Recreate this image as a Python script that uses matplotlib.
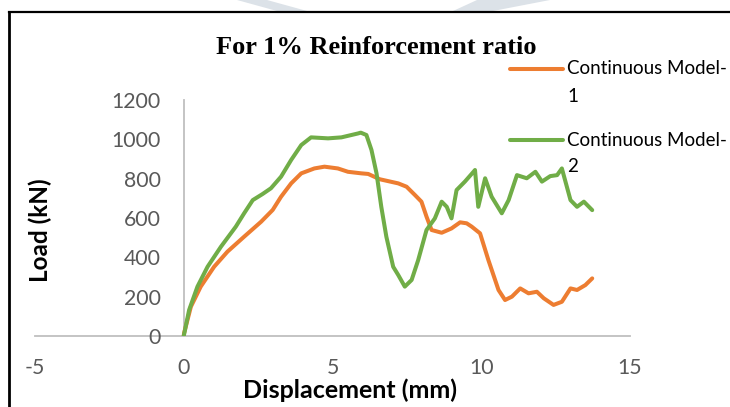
import numpy as np
import matplotlib.pyplot as plt
from matplotlib.patches import Polygon
from matplotlib.lines import Line2D

# Load-displacement curves, 1% reinforcement ratio
disp_1 = [0, 0.01, 0.24, 0.57, 1.02, 1.47, 2.03, 2.6, 2.99, 3.27, 3.61, 3.95, 4.39, 4.73,
          5.18, 5.52, 5.97, 6.2, 6.59, 7.21, 7.49, 7.77, 7.99, 8.16, 8.33, 8.67, 9.0,
          9.29, 9.51, 9.68, 9.96, 10.24, 10.58, 10.8, 11.03, 11.31, 11.59, 11.87, 12.1,
          12.43, 12.71, 13.0, 13.22, 13.5, 13.73]
load_1 = [0, 14, 149, 251, 352, 429, 505, 581, 641, 708, 776, 827, 852, 861,
          852, 835, 827, 824, 797, 776, 759, 717, 683, 607, 539, 525, 547,
          578, 573, 556, 522, 386, 234, 183, 200, 242, 217, 225, 192,
          158, 174, 242, 234, 259, 293]

disp_2 = [0, 0.18, 0.46, 0.8, 1.25, 1.75, 2.03, 2.32, 2.65, 2.93, 3.27, 3.61, 3.95, 4.28,
          4.85, 5.3, 5.86, 5.95, 6.14, 6.31, 6.48, 6.64, 6.81, 7.04, 7.21, 7.43, 7.66,
          7.88, 8.16, 8.44, 8.67, 8.84, 9.0, 9.17, 9.45, 9.74, 9.79, 9.9, 10.13, 10.35,
          10.69, 10.92, 11.2, 11.53, 11.82, 12.04, 12.32, 12.55, 12.71, 13.0, 13.22,
          13.45, 13.73]
load_2 = [0, 132, 251, 352, 454, 556, 624, 691, 722, 751, 810, 895, 971, 1010,
          1005, 1010, 1030, 1034, 1022, 946, 827, 657, 505, 352, 310, 251, 285,
          386, 539, 598, 683, 657, 598, 742, 785, 835, 844, 657, 802, 708,
          624, 691, 818, 802, 835, 785, 813, 818, 852, 691, 657,
          683, 640]

x_ticks = [-5, 0, 5, 10, 15]
y_ticks = [0, 200, 400, 600, 800, 1000, 1200]

orange = '#ED7D31'
green = '#70AD47'
axis_grey = '#BFBFBF'
label_grey = '#595959'
plt.rcParams['font.family'] = ['Lato', 'DejaVu Sans']
plt.rcParams['axes.unicode_minus'] = False

fig = plt.figure(figsize=(7.3, 4.07), dpi=100)
W, H = 730, 407
ax = fig.add_axes([35 / W, 71 / H, 595 / W, 236 / H])

ax.plot(disp_1, load_1, color=orange, lw=2.9, solid_joinstyle='round', solid_capstyle='round')
ax.plot(disp_2, load_2, color=green, lw=2.9, solid_joinstyle='round', solid_capstyle='round')

ax.set_xlim(-5, 15)
ax.set_ylim(0, 1200)
ax.set_xticks(x_ticks)
ax.set_yticks(y_ticks)
for s in ['top', 'right']:
    ax.spines[s].set_visible(False)
ax.spines['left'].set_position(('data', 0))
for s in ['left', 'bottom']:
    ax.spines[s].set_color(axis_grey)
    ax.spines[s].set_linewidth(1.3)
    ax.spines[s].set_zorder(0)
ax.tick_params(axis='y', length=0, pad=16.5, labelsize=15.3, labelcolor=label_grey)
ax.tick_params(axis='x', length=0, pad=16, labelsize=15.3, labelcolor=label_grey)
ax.patch.set_alpha(0)

# titles and axis labels
fig.text(376 / W, 1 - 48 / H, 'For 1% Reinforcement ratio', ha='center', va='center',
         fontsize=19, fontweight='bold', family='Liberation Serif')
fig.text(350 / W, 1 - 390 / H, 'Displacement (mm)', ha='center', va='center',
         fontsize=18, fontweight='bold')
fig.text(40 / W, 1 - 230 / H, 'Load (kN)', ha='center', va='center', rotation=90,
         fontsize=17.5, fontweight='bold')

# legend drawn by hand so the long labels wrap onto two lines
for y_line, y_num, col, num in [(69, 97, orange, '1'), (140, 167, green, '2')]:
    fig.add_artist(Line2D([510 / W, 563 / W], [1 - y_line / H, 1 - y_line / H],
                          color=col, lw=2.9, solid_capstyle='round'))
    fig.text(567 / W, 1 - y_line / H, 'Continuous Model-', ha='left', va='center',
             fontsize=13.5, color='black')
    fig.text(567 / W, 1 - y_num / H, num, ha='left', va='center', fontsize=13.5, color='black')

# frame around the chart
fig.add_artist(Line2D([9 / W, 9 / W], [0, 1 - 12 / H], color='black', lw=2))
fig.add_artist(Line2D([9 / W, 1], [1 - 12 / H, 1 - 12 / H], color='black', lw=1.6))

# faint shapes above the frame
for pts in [[(237, 0), (267, 0), (307, 11), (277, 11)],
            [(477, 0), (550, 0), (493, 11), (453, 11)]]:
    fig.add_artist(Polygon([(px / W, 1 - py / H) for px, py in pts], closed=True,
                           facecolor='#DCE2E8', edgecolor='none'))

fig.savefig('out.png', dpi=100)
